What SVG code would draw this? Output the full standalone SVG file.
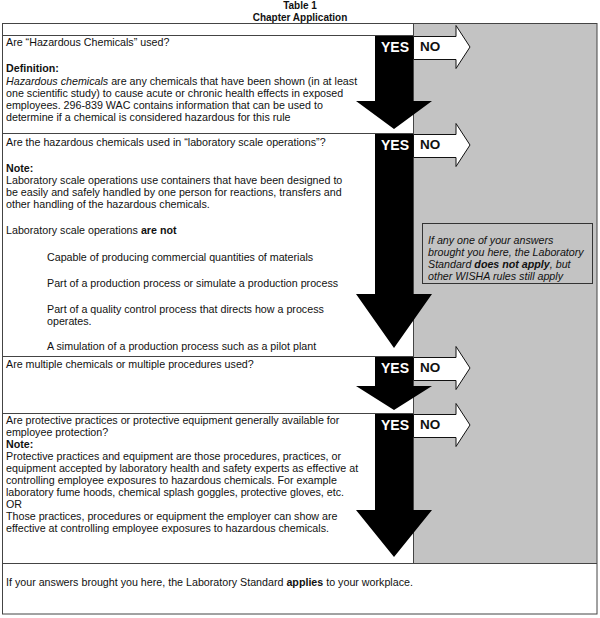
<svg xmlns="http://www.w3.org/2000/svg" width="600" height="618" viewBox="0 0 600 618">
<style>
text{font-family:"Liberation Sans",Arial,sans-serif;font-size:10.7px;fill:#111}
.t{font-weight:bold;font-size:10px;text-anchor:middle}
.b{font-weight:bold}
.i{font-style:italic}
.yes{font-weight:bold;font-size:14px;fill:#fff;text-anchor:middle}
.no{font-weight:bold;font-size:13.5px;fill:#111}
.ln{stroke:#444;stroke-width:1;fill:none}
.ya{fill:#000}
.na{fill:#fff;stroke:#111;stroke-width:1}
</style>
<rect x="0" y="0" width="600" height="618" fill="#fff"/>
<text class="t" x="300" y="9">Table  1</text>
<text class="t" x="300" y="20.5">Chapter Application</text>
<g id="grey-column">
<rect x="413" y="23" width="184" height="540" fill="#c3c3c3"/>
</g>
<g id="table-lines">
<rect class="ln" x="2.5" y="23.5" width="594.5" height="590.5"/>
<path class="ln" d="M2.5,35.5H413M2.5,133.5H413M2.5,356.5H413M2.5,413.5H413M2.5,563.5H597M413.5,23.5V563.5"/>
</g>
<g id="connectors">
<path class="ya" d="M375,36H413V101H432L394,129L356,101H375Z"/>
<path class="ya" d="M375,134H413V294H432L394,348L356,294H375Z"/>
<path class="ya" d="M375,357H413V386H432L394,410L356,386H375Z"/>
<path class="ya" d="M375,414H413V510H432L394,557L356,510H375Z"/>
<path class="na" d="M413.5,36.5H456V25.5L470,47L456,68.5V59.5H413.5Z"/>
<path class="na" d="M413.5,134.5H456V123.5L470,145L456,166.5V157.5H413.5Z"/>
<path class="na" d="M413.5,357.5H456V346.5L470,368L456,389.5V380.5H413.5Z"/>
<path class="na" d="M413.5,414.5H456V403.5L470,425L456,446.5V437.5H413.5Z"/>
<text class="yes" x="395" y="52">YES</text>
<text class="no" x="420" y="51">NO</text>
<text class="yes" x="395" y="150">YES</text>
<text class="no" x="420" y="149">NO</text>
<text class="yes" x="395" y="373">YES</text>
<text class="no" x="420" y="372">NO</text>
<text class="yes" x="395" y="430">YES</text>
<text class="no" x="420" y="429">NO</text>
</g>
<g id="q1">
<text x="6" y="46">Are “Hazardous Chemicals” used?</text>
<text class="b" x="6" y="72">Definition:</text>
<text x="6" y="85"><tspan class="i">Hazardous chemicals</tspan> are any chemicals that have been shown (in at least</text>
<text x="6" y="97">one scientific study) to cause acute or chronic health effects in exposed</text>
<text x="6" y="109">employees.  296-839 WAC contains information that can be used to</text>
<text x="6" y="121">determine if a chemical is considered hazardous for this rule</text>
</g>
<g id="q2">
<text x="6" y="146">Are the hazardous chemicals used in “laboratory scale operations”?</text>
<text class="b" x="6" y="172">Note:</text>
<text x="6" y="184">Laboratory scale operations use containers that have been designed to</text>
<text x="6" y="196">be easily and safely handled by one person for reactions, transfers and</text>
<text x="6" y="208">other handling of the hazardous chemicals.</text>
<text x="6" y="234">Laboratory scale operations <tspan class="b">are not</tspan></text>
<text x="47" y="261">Capable of producing commercial quantities of materials</text>
<text x="47" y="287">Part of a production process or simulate a production process</text>
<text x="47" y="313">Part of a quality control process that directs how a process</text>
<text x="47" y="325">operates.</text>
<text x="47" y="350">A simulation of a production process such as a pilot plant</text>
</g>
<g id="q3">
<text x="6" y="368">Are multiple chemicals or multiple procedures used?</text>
</g>
<g id="q4">
<text x="6" y="424">Are protective practices or protective equipment generally available for</text>
<text x="6" y="436">employee protection?</text>
<text class="b" x="6" y="448">Note:</text>
<text x="6" y="460">Protective practices and equipment are those procedures, practices, or</text>
<text x="6" y="472">equipment accepted by laboratory health and safety experts as effective at</text>
<text x="6" y="484">controlling employee exposures to hazardous chemicals.  For example</text>
<text x="6" y="496">laboratory fume hoods, chemical splash goggles, protective gloves, etc.</text>
<text x="6" y="508">OR</text>
<text x="6" y="520">Those practices, procedures or equipment the employer can show are</text>
<text x="6" y="532">effective at controlling employee exposures to hazardous chemicals.</text>
</g>
<g id="not-apply">
<rect x="422.5" y="223.5" width="170" height="60" fill="none" stroke="#333"/>
<text class="i" x="428" y="244">If any one of your answers</text>
<text class="i" x="428" y="256">brought you here, the Laboratory</text>
<text class="i" x="428" y="268">Standard <tspan class="b">does not apply</tspan>, but</text>
<text class="i" x="428" y="280">other WISHA rules still apply</text>
</g>
<g id="applies">
<text x="6" y="586">If your answers brought you here, the Laboratory Standard <tspan class="b">applies</tspan> to your workplace.</text>
</g>
</svg>
